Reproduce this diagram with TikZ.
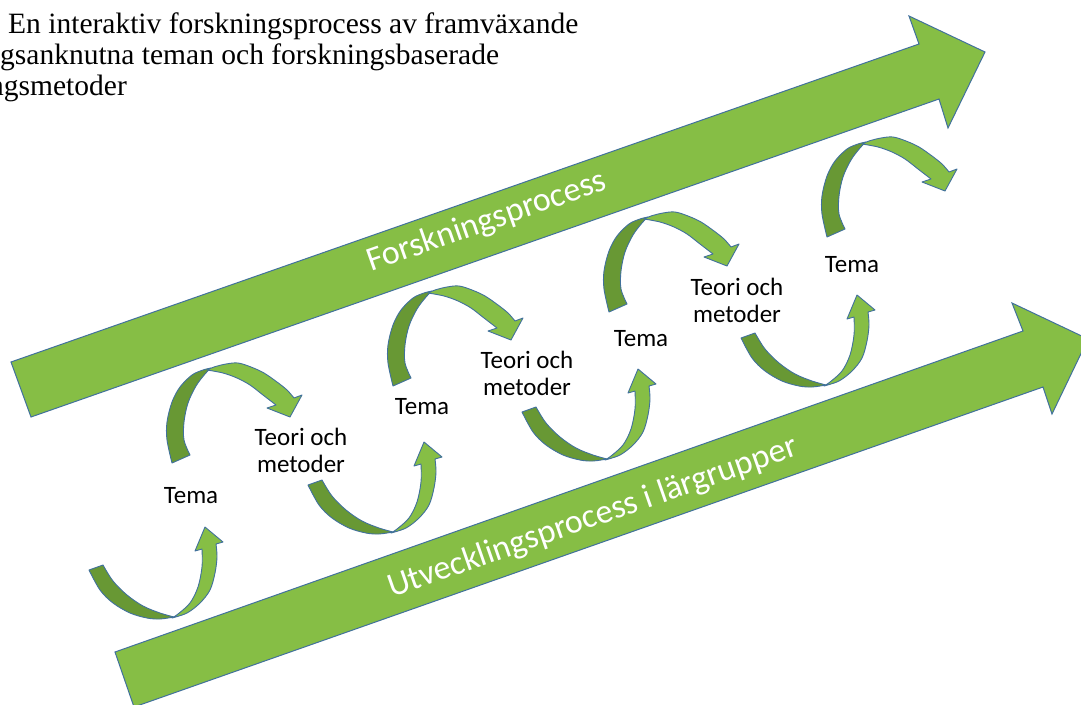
\documentclass[tikz,border=0pt]{standalone}
\usepackage{fontspec}
\setmainfont{Liberation Serif}
\newfontfamily\carlito{Carlito}
\definecolor{lgreen}{RGB}{134,190,69}
\definecolor{dgreen}{RGB}{104,152,52}
\definecolor{edgeblue}{RGB}{65,113,156}
\tikzset{
  bigarrow/.style={fill=lgreen, draw=edgeblue, line width=1pt, line join=miter},
  lightband/.style={fill=lgreen, draw=edgeblue, line width=0.9pt, line join=round},
  darkband/.style={fill=dgreen, draw=edgeblue, line width=0.9pt, line join=round},
  lbl/.style={font=\carlito\fontsize{25}{27}\selectfont, align=center, inner sep=0pt},
  bandtext/.style={font=\carlito\fontsize{34}{40}\selectfont, text=white, rotate=19.3, inner sep=0pt},
  titleline/.style={font=\fontsize{29.5}{31}\selectfont, anchor=base west, inner sep=0pt},
  toparc/.pic={
    \filldraw[darkband] plot[smooth, tension=0.55] coordinates {(172,463) (167,440) (167,422) (172,402) (180,387) (192,375) (203,370) (211,368)}
      -- plot[smooth, tension=0.55] coordinates {(211,368) (205,374) (196,386) (188,403) (184,422) (184,440) (190,455)} -- cycle;
    \filldraw[lightband] plot[smooth, tension=0.55] coordinates {(207,370) (214,367) (226,364) (238,363) (251,367) (264,373) (277,382) (287,390) (294,398)}
      -- (302,395) -- (290,417) -- (267,408) -- (276,405)
      -- plot[smooth, tension=0.55] coordinates {(276,405) (263,395) (250,385) (237,378) (223,373) (207,370)} -- cycle;
  },
  botarc/.pic={
    \filldraw[darkband] plot[smooth, tension=0.55] coordinates {(89,570) (100,590) (113,603) (130,613) (147,618) (160,619) (174,617)}
      -- plot[smooth, tension=0.55] coordinates {(174,617) (160,613) (143,606) (127,595) (113,581) (103,565)} -- cycle;
    \filldraw[lightband] plot[smooth, tension=0.55] coordinates {(172,618) (187,613) (200,603) (210,590) (215,573) (217,557) (216,544)}
      -- (223,542) -- (205,527) -- (195,551) -- (202,549)
      -- plot[smooth, tension=0.55] coordinates {(202,549) (202,567) (198,587) (190,603) (178,614) (172,618)} -- cycle;
  }
}
\begin{document}
\begin{tikzpicture}[x=1pt,y=-1pt]
\useasboundingbox (0,0) rectangle (1081,704);
\fill[white] (0,0) rectangle (1081,704);
\begin{scope}
\clip (0,0) rectangle (1081,704);
% title
\node[titleline] (t1) at (8,33) {En interaktiv forskningsprocess av framväxande};
\node[titleline] (t2) at (0,64) {gsanknutna teman och forskningsbaserade};
\node[titleline] (t3) at (-11,95) {ngsmetoder};
% big arrows
\filldraw[bigarrow] (11,362) -- (919,44) -- (909,16) -- (985,52) -- (948,128) -- (939,99) -- (31,417) -- cycle;
\filldraw[bigarrow] (115,652) -- (1023,331) -- (1012,303) -- (1088,339) -- (1052,414) -- (1043,387) -- (134,707) -- cycle;
\node[bandtext] (fp) at (487,222) {Forskningsprocess};
\node[bandtext] (up) at (593,518) {Utvecklingsprocess i lärgrupper};
% curved arrows
\pic at (0,0) {toparc};
\pic at (221,-77) {toparc};
\pic at (437,-151) {toparc};
\pic at (655,-226) {toparc};
\pic at (0,0) {botarc};
\pic at (219,-85) {botarc};
\pic at (433,-158) {botarc};
\pic at (652,-232) {botarc};
% labels
\node[lbl] (tema1) at (191,496) {Tema};
\node[lbl] (tom1) at (301,450) {Teori och\\metoder};
\node[lbl] (tema2) at (422,407) {Tema};
\node[lbl] (tom2) at (527,373) {Teori och\\metoder};
\node[lbl] (tema3) at (641,339) {Tema};
\node[lbl] (tom3) at (737,300) {Teori och\\metoder};
\node[lbl] (tema4) at (852,265) {Tema};
\end{scope}
\end{tikzpicture}
\end{document}
